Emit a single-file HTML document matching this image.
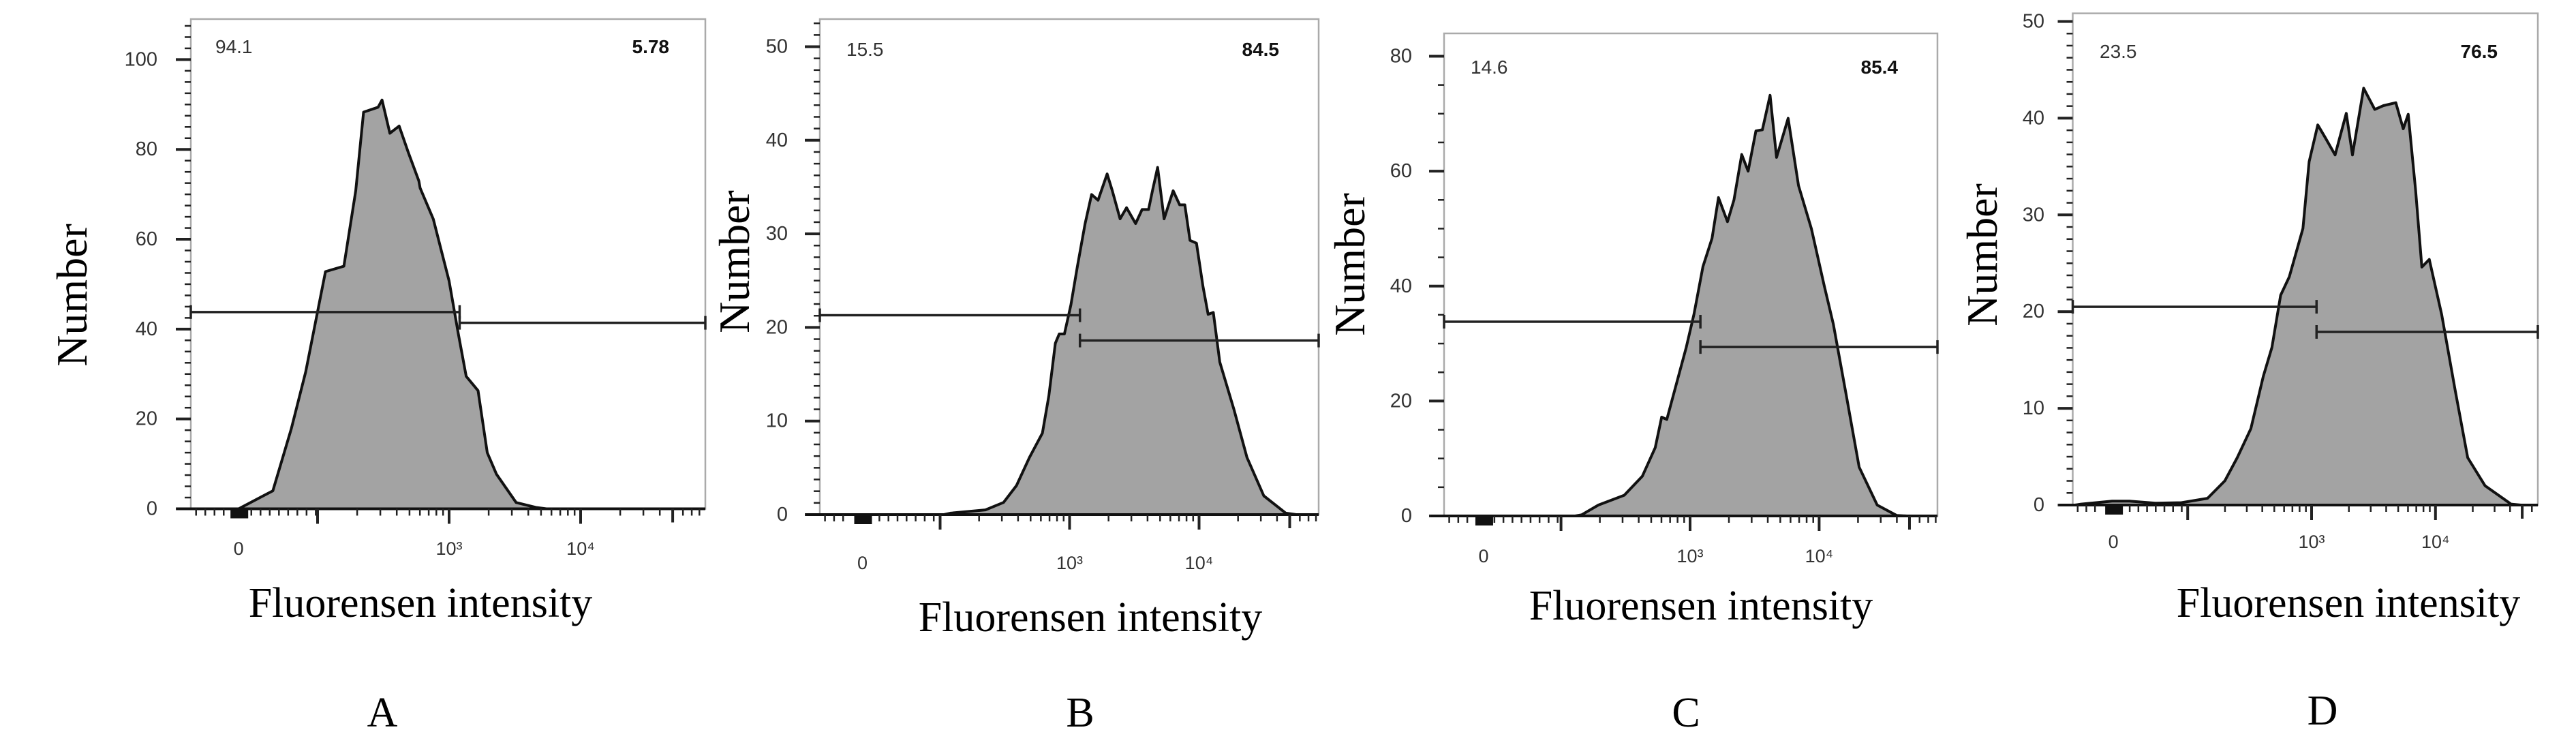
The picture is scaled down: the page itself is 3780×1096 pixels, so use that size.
<!DOCTYPE html>
<html><head><meta charset="utf-8"><style>
html,body{margin:0;padding:0;background:#fff;}
svg{display:block;}
.tk{font-family:"Liberation Sans",sans-serif;fill:#333;}
.serif{font-family:"Liberation Serif",serif;fill:#000;}
</style></head><body>
<svg id="fig" width="3780" height="1096" viewBox="0 0 3780 1096" xmlns="http://www.w3.org/2000/svg">
<rect width="3780" height="1096" fill="#fff"/>
</svg>
<script>
// Panel A
const posA = [1.40,1.66,1.80,1.91,2.06,2.20,2.29,2.35,2.46,2.49,2.55,2.62,2.69,2.77,2.78,2.88,3.00,3.07,3.13,3.22,3.29,3.36,3.51,3.66];
const cntA = [0,4,17.8,30.5,52.8,54,70.8,88.3,89.4,91,83.6,85.2,79.3,73,71.4,64.5,50.7,39,29.5,26.3,12.5,7.7,1.4,0.3];
// Panel B
const posB = [2.08,2.35,2.49,2.59,2.69,2.79,2.84,2.89,2.92,2.96,3.01,3.06,3.12,3.17,3.22,3.29,3.33,3.39,3.44,3.51,3.56,3.61,3.64,3.68,3.73,3.80,3.85,3.89,3.93,3.98,4.03,4.07,4.11,4.16,4.27,4.37,4.50,4.67];
const cntB = [0.15,0.5,1.3,3.1,6.1,8.7,12.7,18.3,19.3,19.3,22.4,26.5,31.1,34.2,33.6,36.4,34.6,31.6,32.8,31.1,32.6,32.6,34.6,37.1,31.6,34.6,33.1,33.1,29.3,29.0,24.4,21.4,21.6,16.3,11.2,6.1,2.0,0.15];
// Panel C
const posC = [2.16,2.29,2.49,2.63,2.73,2.78,2.82,2.90,2.97,3.03,3.10,3.17,3.22,3.29,3.34,3.40,3.45,3.51,3.56,3.62,3.67,3.76,3.84,3.94,4.04,4.11,4.21,4.31,4.45,4.60];
const cntC = [0.2,1.9,3.6,6.9,11.9,17.2,16.8,23.5,29.3,35.1,43.4,48.3,55.4,51.2,55,62.9,60,67,67.2,73.2,62.4,69.2,57.5,50,40,33.4,21,8.5,1.9,0.1];
// Panel D
const posD = [1.14,1.39,1.53,1.74,1.95,2.16,2.30,2.40,2.51,2.61,2.68,2.75,2.82,2.93,2.98,3.05,3.11,3.19,3.28,3.33,3.42,3.51,3.58,3.68,3.74,3.78,3.84,3.89,3.95,4.05,4.16,4.26,4.40,4.61];
const cntD = [0.1,0.4,0.4,0.2,0.25,0.7,2.5,4.9,7.9,13.3,16.3,21.7,23.6,28.6,35.5,39.3,38.0,36.2,40.5,36.2,43.1,40.9,41.3,41.6,38.9,40.4,32.5,24.6,25.4,19.7,11.8,4.9,2.0,0.1];
// gates: [left level, right level, split position]
const gateA = [43.8, 41.4, 3.08];
const gateB = [21.3, 18.6, 3.08];
const gateC = [33.8, 29.4, 3.08];
const gateD = [20.5, 17.9, 3.04];
const pctA = ["94.1","5.78"], pctB = ["15.5","84.5"], pctC = ["14.6","85.4"], pctD = ["23.5","76.5"];
const yTicksA = [0,20,40,60,80,100], yTicksB = [0,10,20,30,40,50], yTicksC = [0,20,40,60,80], yTicksD = [0,10,20,30,40,50];

const NS = "http://www.w3.org/2000/svg";
const svg = document.getElementById('fig');
function mk(tag, attrs, parent){const e=document.createElementNS(NS,tag);for(const k in attrs)e.setAttribute(k,attrs[k]);(parent||svg).appendChild(e);return e;}

const layouts = [
 {id:'a',L:280,R:1035,T:28,B:746.5,y0:746.5,yTopV:100,yTopPx:87.4,x3:659,dec:193,minor:2.5,pos:posA,cnt:cntA,gate:gateA,pct:pctA,yt:yTicksA,
  ylabR:231,numX:105,numY:433,titX:617,titY:905,letX:561,letY:1066,letter:'A',tickY:814,pctY:78,pctL:316,pctR:982},
 {id:'b',L:1203,R:1935,T:28,B:755,y0:755,yTopV:50,yTopPx:68.5,x3:1569.5,dec:190,minor:1.25,pos:posB,cnt:cntB,gate:gateB,pct:pctB,yt:yTicksB,
  ylabR:1156,numX:1077,numY:384,titX:1600,titY:926,letX:1585,letY:1066,letter:'B',tickY:835,pctY:82,pctL:1242,pctR:1877},
 {id:'c',L:2119,R:2843,T:49,B:757,y0:757,yTopV:80,yTopPx:82.5,x3:2480,dec:189.4,minor:5,pos:posC,cnt:cntC,gate:gateC,pct:pctC,yt:yTicksC,
  ylabR:2072,numX:1980,numY:388,titX:2496,titY:909,letX:2474,letY:1066,letter:'C',tickY:825,pctY:108,pctL:2158,pctR:2785},
 {id:'d',L:3041.5,R:3724,T:19.6,B:741,y0:741,yTopV:50,yTopPx:31.5,x3:3392,dec:181.8,minor:1.25,pos:posD,cnt:cntD,gate:gateD,pct:pctD,yt:yTicksD,
  ylabR:3000,numX:2908,numY:374,titX:3446,titY:905,letX:3408,letY:1063,letter:'D',tickY:804,pctY:85,pctL:3081,pctR:3665}
];

layouts.forEach(p=>{
  const g = mk('g',{});
  
  
  const xs = d => p.x3 + (d-3)*p.dec;
  const k = (p.y0 - p.yTopPx)/p.yTopV;
  const ys = v => p.y0 - v*k;
  const dL = 3 - (p.x3 - p.L)/p.dec;
  const dR = 3 + (p.R - p.x3)/p.dec;

  const box = mk('rect',{x:p.L,y:p.T,width:p.R-p.L,height:p.B-p.T,fill:'none',stroke:'#aaa','stroke-width':2.5},g);
  
  

  let d = 'M'+xs(dL)+','+ys(0)+' L'+xs(p.pos[0]-0.05)+','+ys(0);
  for(let i=0;i<p.pos.length;i++) d += ' L'+xs(p.pos[i]).toFixed(1)+','+ys(p.cnt[i]).toFixed(1);
  d += ' L'+xs(p.pos[p.pos.length-1]+0.08)+','+ys(0)+' L'+xs(dR)+','+ys(0);
  const fill = mk('path',{d:d+' Z',fill:'#a3a3a3',stroke:'none'},g);
  
  
  const line = mk('path',{d:d,fill:'none',stroke:'#111','stroke-width':4,'stroke-linejoin':'round'},g);
  
  

  const yAx = mk('g',{},g);
  
  
  const topV = (p.y0 - p.T)/k;
  for(let v=0; v<=topV+0.01; v+=p.minor){
    const major = p.yt.some(t=>Math.abs(t-v)<1e-6);
    mk('line',{x1:p.L-(major?22:9),x2:p.L,y1:ys(v),y2:ys(v),stroke:'#222','stroke-width':major?4:2.5},yAx);
  }
  p.yt.forEach(t=>{
    const tx = mk('text',{x:p.ylabR,y:ys(t)+9,'text-anchor':'end','font-size':29,class:'tk'},yAx);
    tx.textContent = t;
    
    
  });

  const xAx = mk('g',{},g);
  
  
  mk('line',{x1:p.L-20,x2:p.R,y1:p.B,y2:p.B,stroke:'#111','stroke-width':4},xAx);
  const z = 1.4;
  for(let t=dL+0.04; t<2; t+=0.07){ if(Math.abs(t-z)>0.08) mk('line',{x1:xs(t),x2:xs(t),y1:p.B,y2:p.B+10,stroke:'#222','stroke-width':2.5},xAx); }
  mk('rect',{x:xs(z)-12,y:p.B,width:26,height:14,fill:'#111'},xAx);
  [2,3,4].forEach(n=>{
    for(let m=1;m<=9;m++){
      const t = n + Math.log10(m);
      if(t>dR) continue;
      mk('line',{x1:xs(t),x2:xs(t),y1:p.B,y2:p.B+(m===1?22:10),stroke:'#222','stroke-width':m===1?4:2.5},xAx);
    }
  });
  mk('line',{x1:xs(4.7),x2:xs(4.7),y1:p.B,y2:p.B+20,stroke:'#222','stroke-width':4},xAx);
  const lab0 = mk('text',{x:xs(z),y:p.tickY,'text-anchor':'middle','font-size':27,class:'tk'},xAx); lab0.textContent='0';
  
  
  [[3,'10³'],[4,'10⁴']].forEach(([t,s])=>{
    const tx = mk('text',{x:xs(t),y:p.tickY,'text-anchor':'middle','font-size':27,class:'tk'},xAx); tx.textContent=s;
    
    
  });

  const gl = mk('g',{stroke:'#222','stroke-width':3.5},g);
  
  
  const gx = xs(p.gate[2]);
  const y1 = ys(p.gate[0]), y2 = ys(p.gate[1]);
  mk('line',{x1:p.L,x2:gx,y1:y1,y2:y1},gl);
  mk('line',{x1:p.L,x2:p.L,y1:y1-10,y2:y1+10},gl);
  mk('line',{x1:gx,x2:gx,y1:y1-10,y2:y1+10},gl);
  mk('line',{x1:gx,x2:p.R,y1:y2,y2:y2},gl);
  mk('line',{x1:gx,x2:gx,y1:y2-10,y2:y2+10},gl);
  mk('line',{x1:p.R,x2:p.R,y1:y2-10,y2:y2+10},gl);

  const t1 = mk('text',{x:p.pctL,y:p.pctY,'font-size':28,class:'tk'},g); t1.textContent=p.pct[0];
  
  
  const t2 = mk('text',{x:p.pctR,y:p.pctY,'font-size':28,'font-weight':'bold','text-anchor':'end',class:'tk'},g); t2.textContent=p.pct[1];
  t2.style.fill='#111';
  
  

  const yt = mk('text',{x:0,y:0,'font-size':64,'text-anchor':'middle',class:'serif',transform:'translate('+(p.numX+22)+','+p.numY+') rotate(-90)'},g);
  yt.textContent='Number';
  
  
  const xt = mk('text',{x:p.titX,y:p.titY,'font-size':62,'text-anchor':'middle',class:'serif'},g);
  xt.textContent='Fluorensen intensity';
  
  
  const lt = mk('text',{x:p.letX,y:p.letY,'font-size':62,'text-anchor':'middle',class:'serif'},g);
  lt.textContent=p.letter;
  
  
});
</script>
</body></html>
